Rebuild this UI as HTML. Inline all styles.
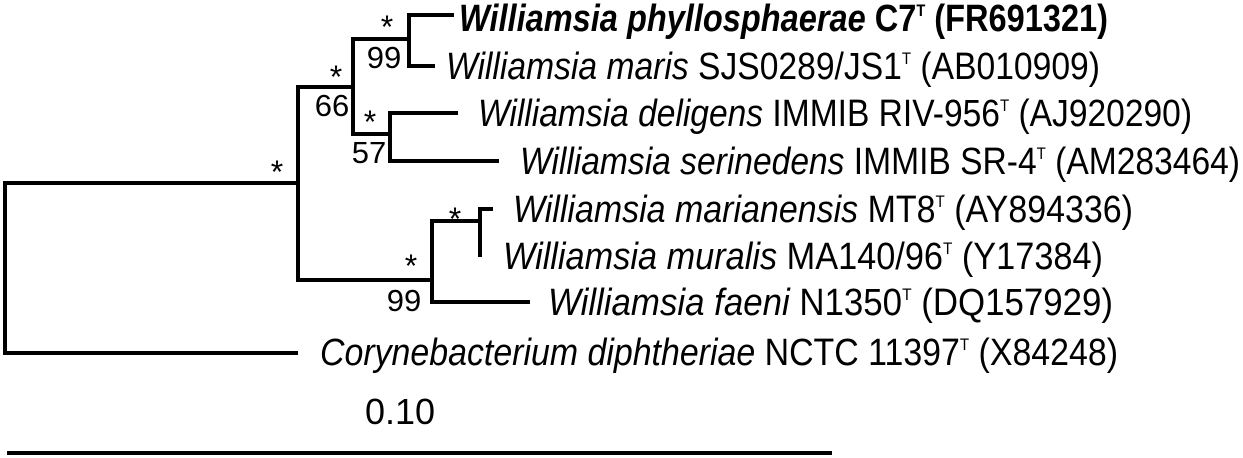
<!DOCTYPE html>
<html><head><meta charset="utf-8"><style>
html,body{margin:0;padding:0;background:#fff;}
svg{display:block;}
text{font-family:"Liberation Sans",sans-serif;fill:#000;}
</style></head><body>
<svg width="1243" height="458" viewBox="0 0 1243 458">
<g stroke="#000" stroke-width="4" fill="none" stroke-linecap="square">
<path d="M5,183V353M5,183H298M5,353H296"/>
<path d="M298,87V280M298,87H353M298,280H432"/>
<path d="M353,39V134M353,39H409M353,134H390"/>
<path d="M409,15V66M409,15H452M409,66H433"/>
<path d="M390,113V161M390,113H456M390,161H497"/>
<path d="M432,221V302M432,221H480M432,302H528"/>
<path d="M480,209V255M480,209H491"/>
</g>
<g font-size="38" font-style="italic">
<text x="459" y="31" textLength="649" lengthAdjust="spacingAndGlyphs" font-weight="bold">Williamsia phyllosphaerae <tspan font-style="normal">C7</tspan><tspan font-style="normal" font-size="17" dy="-15">T</tspan><tspan font-style="normal" dy="15"> (FR691321)</tspan></text>
<text x="446" y="79" textLength="654" lengthAdjust="spacingAndGlyphs">Williamsia maris <tspan font-style="normal">SJS0289/JS1</tspan><tspan font-style="normal" font-size="17" dy="-15">T</tspan><tspan font-style="normal" dy="15"> (AB010909)</tspan></text>
<text x="478" y="126" textLength="714" lengthAdjust="spacingAndGlyphs">Williamsia deligens <tspan font-style="normal">IMMIB RIV-956</tspan><tspan font-style="normal" font-size="17" dy="-15">T</tspan><tspan font-style="normal" dy="15">  (AJ920290)</tspan></text>
<text x="520" y="174" textLength="720" lengthAdjust="spacingAndGlyphs">Williamsia serinedens <tspan font-style="normal">IMMIB SR-4</tspan><tspan font-style="normal" font-size="17" dy="-15">T</tspan><tspan font-style="normal" dy="15">  (AM283464)</tspan></text>
<text x="513" y="222" textLength="620" lengthAdjust="spacingAndGlyphs">Williamsia marianensis <tspan font-style="normal"> MT8</tspan><tspan font-style="normal" font-size="17" dy="-15">T</tspan><tspan font-style="normal" dy="15"> (AY894336)</tspan></text>
<text x="503" y="269" textLength="600" lengthAdjust="spacingAndGlyphs">Williamsia muralis <tspan font-style="normal">MA140/96</tspan><tspan font-style="normal" font-size="17" dy="-15">T</tspan><tspan font-style="normal" dy="15">  (Y17384)</tspan></text>
<text x="548" y="315" textLength="565" lengthAdjust="spacingAndGlyphs">Williamsia faeni <tspan font-style="normal"> N1350</tspan><tspan font-style="normal" font-size="17" dy="-15">T</tspan><tspan font-style="normal" dy="15"> (DQ157929)</tspan></text>
<text x="320" y="365" textLength="798" lengthAdjust="spacingAndGlyphs">Corynebacterium diphtheriae <tspan font-style="normal">NCTC 11397</tspan><tspan font-style="normal" font-size="17" dy="-15">T</tspan><tspan font-style="normal" dy="15"> (X84248)</tspan></text>
</g>
<g font-size="31" text-anchor="middle">
<text x="387" y="38" font-size="32">*</text>
<text x="336" y="88" font-size="32">*</text>
<text x="370" y="133" font-size="32">*</text>
<text x="277" y="183" font-size="32">*</text>
<text x="455" y="230" font-size="32">*</text>
<text x="411" y="277" font-size="32">*</text>
<text x="384" y="68">99</text>
<text x="332" y="116">66</text>
<text x="369" y="163">57</text>
<text x="404" y="311">99</text>
</g>
<text x="400" y="424" font-size="36" text-anchor="middle">0.10</text>
<line x1="7" y1="453" x2="832" y2="453" stroke="#000" stroke-width="4"/>
</svg>
</body></html>
